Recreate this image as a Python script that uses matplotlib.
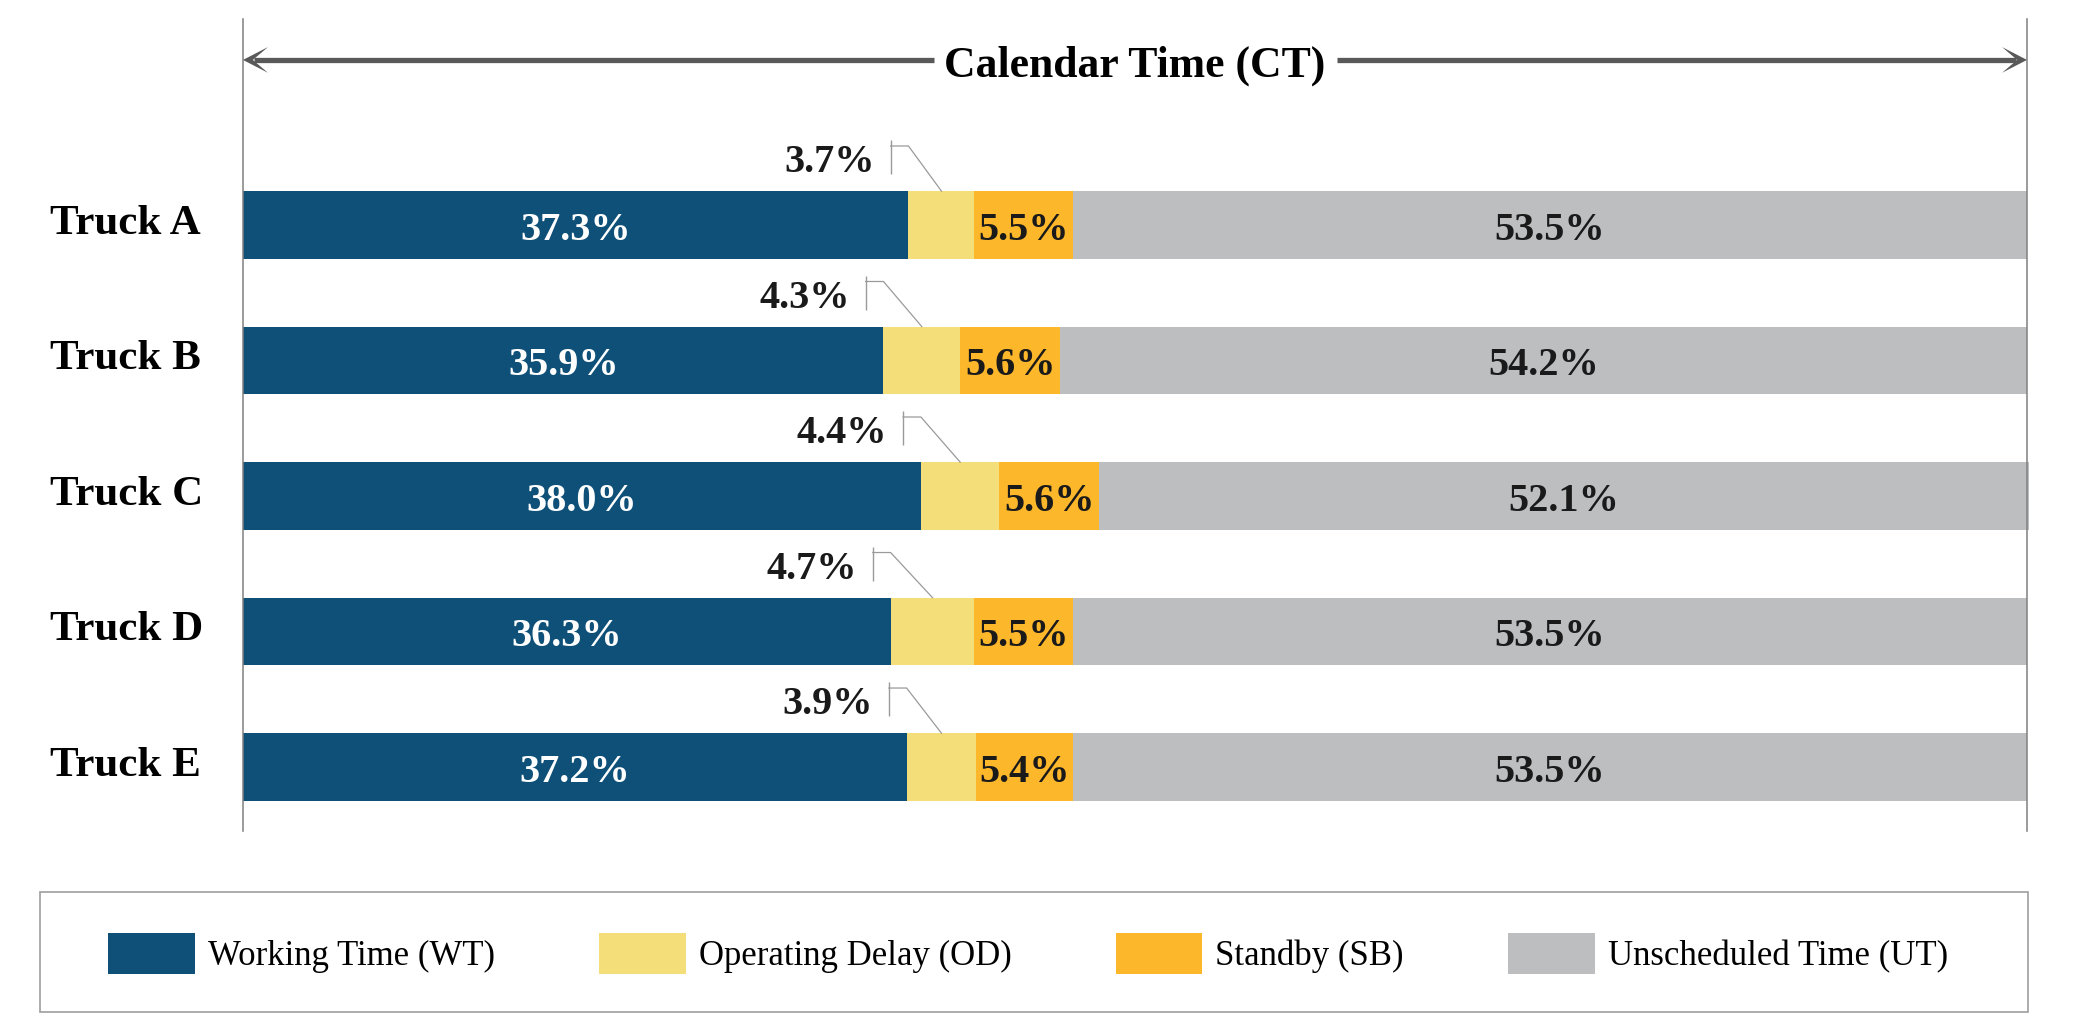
import numpy as np
import matplotlib
matplotlib.use("Agg")
import matplotlib.pyplot as plt
from matplotlib.patches import Rectangle, Polygon
from matplotlib.transforms import blended_transform_factory

# ---------------- data ----------------
trucks = ["Truck A", "Truck B", "Truck C", "Truck D", "Truck E"]
wt = [37.3, 35.9, 38.0, 36.3, 37.2]   # Working Time
od = [3.7, 4.3, 4.4, 4.7, 3.9]        # Operating Delay
sb = [5.5, 5.6, 5.6, 5.5, 5.4]        # Standby
ut = [53.5, 54.2, 52.1, 53.5, 53.5]   # Unscheduled Time
series_names = ["Working Time (WT)", "Operating Delay (OD)",
                "Standby (SB)", "Unscheduled Time (UT)"]
title_text = "Calendar Time (CT)"

# ---------------- style ----------------
colors = ["#0E5078", "#F3DE7A", "#FDB72B", "#BDBEC0"]
SERIF = ["Liberation Serif", "DejaVu Serif"]
DARK = "#1A1A1A"

W, H = 2083, 1030
fig = plt.figure(figsize=(W / 100, H / 100), dpi=100)
ax_l, ax_r, ax_t, ax_b = 243, 2027, 19, 831
ax = fig.add_axes([ax_l / W, 1 - ax_b / H, (ax_r - ax_l) / W, (ax_b - ax_t) / H])

y = np.arange(len(trucks))
series = [wt, od, sb, ut]
left = np.zeros(len(trucks))
lefts = []
for vals, c, name in zip(series, colors, series_names):
    vals = np.asarray(vals)
    ax.barh(y, vals, left=left, height=0.5, color=c, label=name,
            clip_on=False, linewidth=0, zorder=1)
    lefts.append(left.copy())
    left = left + vals

ax.set_xlim(0, 100)
ax.set_ylim(4.472, -1.52)
ax.set_xticks([])
ax.set_yticks([])
for s in ["top", "bottom"]:
    ax.spines[s].set_visible(False)
for s in ["left", "right"]:
    ax.spines[s].set_color("#808080")
    ax.spines[s].set_linewidth(1.1)

# ---------------- value labels ----------------
lab_fs = 29
for i in range(len(trucks)):
    # WT (white)
    ax.text(lefts[0][i] + wt[i] / 2, i + 0.11, f"{wt[i]:.1f}%", ha="center",
            va="baseline", color="white", fontsize=lab_fs, fontweight="bold",
            family=SERIF, zorder=5)
    # SB
    ax.text(lefts[2][i] + sb[i] / 2, i + 0.11, f"{sb[i]:.1f}%", ha="center",
            va="baseline", color=DARK, fontsize=lab_fs, fontweight="bold",
            family=SERIF, zorder=5)
    # UT
    ax.text(lefts[3][i] + ut[i] / 2, i + 0.11, f"{ut[i]:.1f}%", ha="center",
            va="baseline", color=DARK, fontsize=lab_fs, fontweight="bold",
            family=SERIF, zorder=5)
    # OD callout with leader line
    xv = lefts[1][i] - 1.0
    ax.plot([xv, xv], [i - 0.376, i - 0.627], color="#9A9A9A", lw=1.0,
            solid_capstyle="butt", clip_on=False, zorder=4)
    ax.plot([xv, lefts[1][i], lefts[1][i] + od[i] / 2],
            [i - 0.583, i - 0.583, i - 0.25], color="#9A9A9A", lw=0.9,
            clip_on=False, zorder=4)
    ax.text(xv - 0.9, i - 0.39, f"{od[i]:.1f}%", ha="right", va="baseline",
            color=DARK, fontsize=lab_fs, fontweight="bold", family=SERIF,
            zorder=5)

# ---------------- truck labels ----------------
trans = blended_transform_factory(ax.transAxes, ax.transData)
x_lab = (50 - ax_l) / (ax_r - ax_l)
for i, t in enumerate(trucks):
    ax.text(x_lab, i + 0.066, t, transform=trans, ha="left", va="baseline",
            fontsize=31, fontweight="bold", family=SERIF, color="black",
            clip_on=False)

# ---------------- calendar-time arrow ----------------
ya = -1.218
acol = "#595959"
ax.text(50, -1.092, title_text, ha="center", va="baseline", fontsize=31.5,
        fontweight="bold", family=SERIF, color="black", clip_on=False)
ax.plot([0.6, 38.75], [ya, ya], color=acol, lw=3.8, solid_capstyle="butt",
        clip_on=False)
ax.plot([61.3, 99.4], [ya, ya], color=acol, lw=3.8, solid_capstyle="butt",
        clip_on=False)
hl, hw, notch = 1.4, 0.095, 0.55
ax.add_patch(Polygon([[0, ya], [hl, ya - hw], [notch, ya], [hl, ya + hw]],
                     closed=True, color=acol, lw=0, clip_on=False, zorder=3))
ax.add_patch(Polygon([[100, ya], [100 - hl, ya - hw], [100 - notch, ya],
                      [100 - hl, ya + hw]],
                     closed=True, color=acol, lw=0, clip_on=False, zorder=3))

# ---------------- legend ----------------
fig.patches.append(Rectangle((40 / W, 1 - 1012 / H), (2028 - 40) / W,
                             (1012 - 892) / H, transform=fig.transFigure,
                             facecolor="none", edgecolor="#9E9E9E", lw=1.2))
handles, labels = ax.get_legend_handles_labels()
leg = fig.legend(handles, labels, loc="center",
                 bbox_to_anchor=(1028 / W, 1 - 953.5 / H), ncol=4,
                 frameon=False, handlelength=2.5, handleheight=1.44,
                 handletextpad=0.375, columnspacing=3.0, borderpad=0,
                 prop={"family": SERIF, "size": 25})

fig.savefig("out.png", dpi=100, facecolor="white")
